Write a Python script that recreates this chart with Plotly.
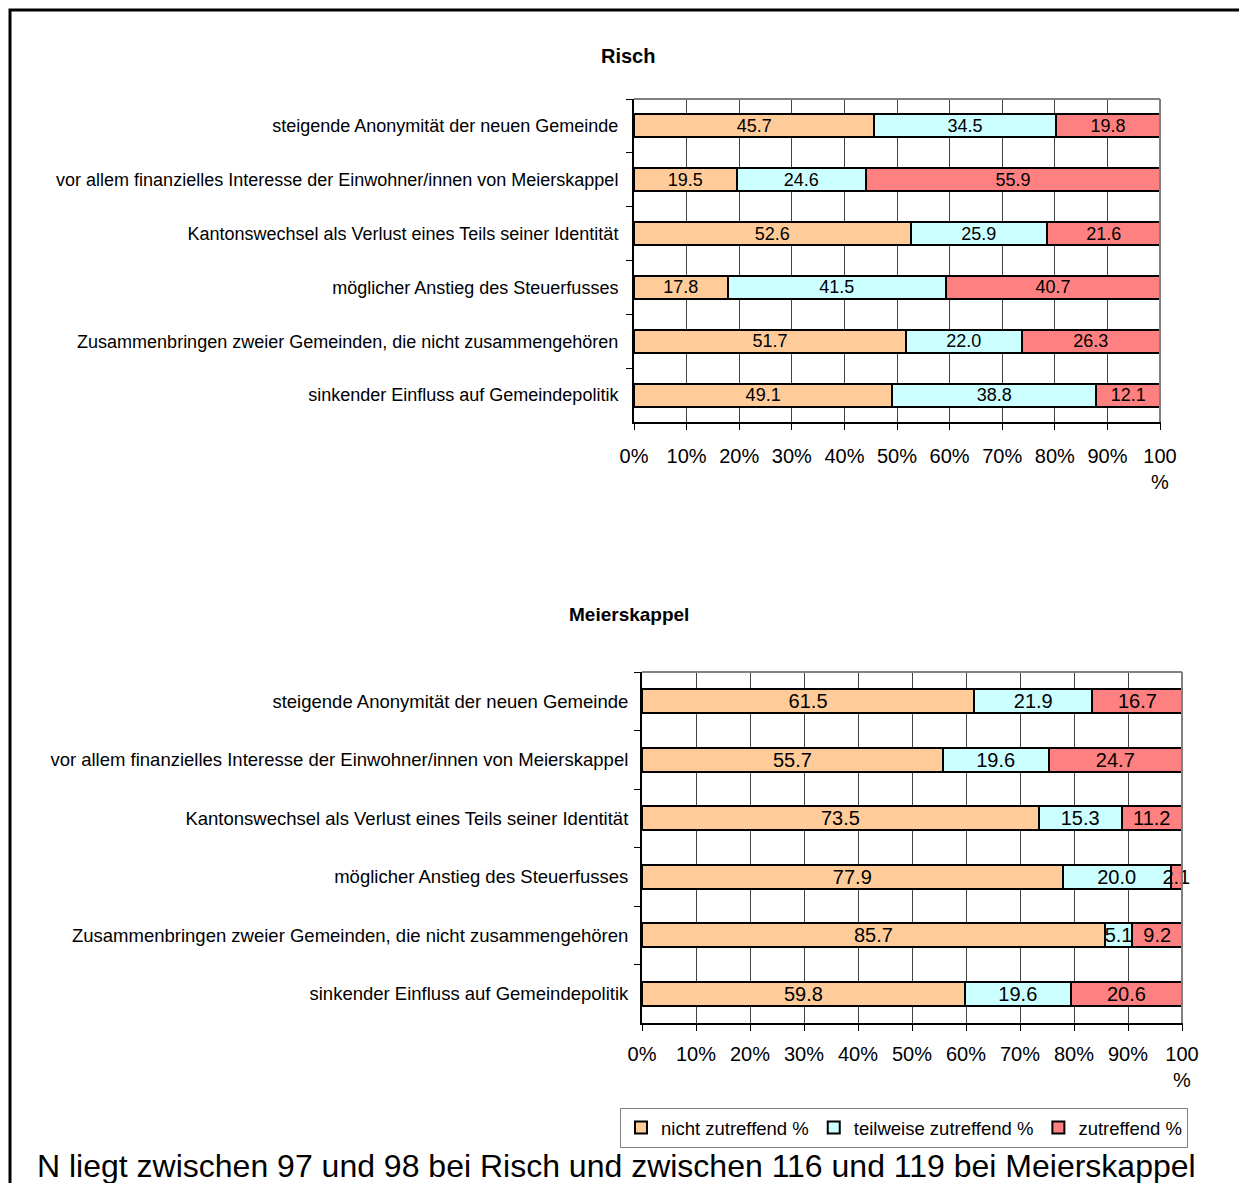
import plotly.graph_objects as go

# page has an 8px body margin; the figure is sized to fit the 1247x1191 window
OFF = 8
W, H = 1247 - 2 * OFF, 1191 - 2 * OFF

categories = [
    "steigende Anonymität der neuen Gemeinde",
    "vor allem finanzielles Interesse der Einwohner/innen von Meierskappel",
    "Kantonswechsel als Verlust eines Teils seiner Identität",
    "möglicher Anstieg des Steuerfusses",
    "Zusammenbringen zweier Gemeinden, die nicht zusammengehören",
    "sinkender Einfluss auf Gemeindepolitik",
]

series_names = ["nicht zutreffend %", "teilweise zutreffend %", "zutreffend %"]

risch_nicht = [45.7, 19.5, 52.6, 17.8, 51.7, 49.1]
risch_teilweise = [34.5, 24.6, 25.9, 41.5, 22.0, 38.8]
risch_zutreffend = [19.8, 55.9, 21.6, 40.7, 26.3, 12.1]

meier_nicht = [61.5, 55.7, 73.5, 77.9, 85.7, 59.8]
meier_teilweise = [21.9, 19.6, 15.3, 20.0, 5.1, 19.6]
meier_zutreffend = [16.7, 24.7, 11.2, 2.1, 9.2, 20.6]

tick_vals = [0, 10, 20, 30, 40, 50, 60, 70, 80, 90, 100]
tick_text = ["0%", "10%", "20%", "30%", "40%", "50%", "60%", "70%", "80%", "90%", "100<br>%"]

colors = ["#FFCC99", "#CCFFFF", "#FF8080"]
FONT = "Liberation Sans, Arial, sans-serif"

fig = go.Figure()

risch = [risch_nicht, risch_teilweise, risch_zutreffend]
meier = [meier_nicht, meier_teilweise, meier_zutreffend]

for i, (name, vals) in enumerate(zip(series_names, risch)):
    fig.add_trace(go.Bar(
        x=vals, y=categories, orientation="h", name=name,
        marker=dict(color=colors[i], line=dict(color="black", width=2)),
        text=[f"{v:.1f}" for v in vals], textposition="inside",
        insidetextanchor="middle", textangle=0, constraintext="none",
        textfont=dict(family=FONT, size=18, color="black"),
        width=0.43, xaxis="x", yaxis="y", showlegend=False,
        legendgroup=name, hoverinfo="skip", cliponaxis=False,
    ))

for i, (name, vals) in enumerate(zip(series_names, meier)):
    fig.add_trace(go.Bar(
        x=vals, y=categories, orientation="h", name=name,
        marker=dict(color=colors[i], line=dict(color="black", width=2)),
        text=[f"{v:.1f}" for v in vals], textposition="inside",
        insidetextanchor="middle", textangle=0, constraintext="none",
        textfont=dict(family=FONT, size=20, color="black"),
        width=0.41, xaxis="x2", yaxis="y2", showlegend=True,
        legendgroup=name, hoverinfo="skip", cliponaxis=False,
    ))

def px_x(p):
    return (p - OFF) / W

def px_y(p):
    return 1 - (p - OFF) / H

XMAX = 100.2  # a hair above 100 so rounded totals (100.1) stay in range

xcommon = dict(
    range=[0, XMAX], tickvals=tick_vals, ticktext=tick_text,
    showgrid=True, gridcolor="#444444", gridwidth=1,
    showline=True, linecolor="black", linewidth=2,
    ticks="outside", ticklen=6, tickcolor="black", tickwidth=1,
    tickfont=dict(family=FONT, size=20, color="black"),
    zeroline=False, fixedrange=True,
)
ycommon = dict(
    autorange="reversed", type="category",
    showline=True, linecolor="black", linewidth=2,
    ticks="outside", ticklen=6, tickcolor="black", tickson="boundaries",
    showgrid=False, fixedrange=True,
)

def dom_x(left, right):
    # map the pixel span of 0..100 onto a domain covering 0..XMAX
    right_ext = left + (right - left) * XMAX / 100
    return [px_x(left), px_x(right_ext)]

fig.update_layout(
    width=W, height=H,
    margin=dict(l=0, r=0, t=0, b=0, autoexpand=False),
    paper_bgcolor="white", plot_bgcolor="white",
    barmode="stack",
    xaxis=dict(domain=dom_x(634, 1160), anchor="y", ticklabelstandoff=9, **xcommon),
    yaxis=dict(domain=[px_y(422), px_y(99)], anchor="x",
               tickfont=dict(family=FONT, size=18, color="black"), ticklabelstandoff=10, **ycommon),
    xaxis2=dict(domain=dom_x(642, 1182), anchor="y2", ticklabelstandoff=6, **xcommon),
    yaxis2=dict(domain=[px_y(1023), px_y(672)], anchor="x2",
                tickfont=dict(family=FONT, size=18.5, color="black"), ticklabelstandoff=8, **ycommon),
    legend=dict(
        orientation="h", x=px_x(904), y=px_y(1108), xanchor="center", yanchor="top",
        bordercolor="#808080", borderwidth=1,
        font=dict(family=FONT, size=18.5, color="black"),
        traceorder="normal", itemwidth=30, tracegroupgap=0,
    ),
    font=dict(family=FONT, color="black"),
)

shapes = []
# outer frame (left and top edges)
shapes.append(dict(type="path", xref="paper", yref="paper",
                   path=f"M {px_x(10)} 0 L {px_x(10)} {px_y(10)} L 1 {px_y(10)}",
                   line=dict(color="black", width=3)))
# plot-area borders (top and right at 100%) in gray
for xa, ya in (("x", "y"), ("x2", "y2")):
    shapes.append(dict(type="line", xref=xa, yref=f"{ya} domain",
                       x0=0, x1=100, y0=1, y1=1, line=dict(color="#808080", width=2)))
    shapes.append(dict(type="line", xref=xa, yref=f"{ya} domain",
                       x0=100, x1=100, y0=0, y1=1, line=dict(color="#808080", width=2)))
fig.update_layout(shapes=shapes)

fig.add_annotation(text="<b>Risch</b>", x=px_x(628), y=px_y(56), xref="paper", yref="paper",
                   xanchor="center", yanchor="middle",
                   showarrow=False, font=dict(family=FONT, size=20, color="black"))
fig.add_annotation(text="<b>Meierskappel</b>", x=px_x(629), y=px_y(615), xref="paper", yref="paper",
                   xanchor="center", yanchor="middle",
                   showarrow=False, font=dict(family=FONT, size=19, color="black"))
fig.add_annotation(text="N liegt zwischen 97 und 98 bei Risch und zwischen 116 und 119 bei Meierskappel",
                   x=px_x(35), y=px_y(1166), xref="paper", yref="paper", xanchor="left", yanchor="middle",
                   showarrow=False, font=dict(family=FONT, size=32, color="black"))

fig.write_html("out.html")
